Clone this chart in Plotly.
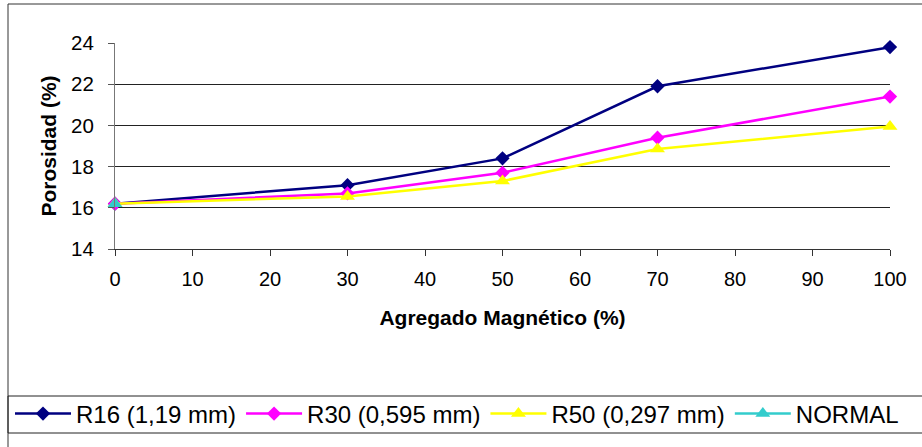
import plotly.graph_objects as go

# Porosity (%) versus percentage of magnetic aggregate, per grading
agregado = [0, 30, 50, 70, 100]
r16 = [16.2, 17.1, 18.4, 21.9, 23.8]
r30 = [16.2, 16.7, 17.7, 19.4, 21.4]
r50 = [16.2, 16.55, 17.3, 18.85, 19.95]
normal_x = [0]
normal_y = [16.2]

series = [
    ("R16 (1,19 mm)", agregado, r16, "#000080", "diamond", 11),
    ("R30 (0,595 mm)", agregado, r30, "#FF00FF", "diamond", 11),
    ("R50 (0,297 mm)", agregado, r50, "#FFFF00", "triangle-up", 13),
    ("NORMAL", normal_x, normal_y, "#33CCCC", "triangle-up", 13),
]

W, H = 922, 447
L, R, T, B = 115, 32, 43, 198
PW, PH = W - L - R, H - T - B

def px(x):
    return (x - L) / PW

def py(y):
    return (H - B - y) / PH

FONT = "Liberation Sans, Arial, sans-serif"

fig = go.Figure()
for name, xs, ys, color, symbol, size in series:
    fig.add_trace(go.Scatter(
        x=xs, y=ys, name=name, mode="lines+markers",
        line=dict(color=color, width=2.5),
        marker=dict(color=color, symbol=symbol, size=size, line=dict(width=0)),
        cliponaxis=False,
    ))

fig.update_layout(
    width=W, height=H,
    margin=dict(l=L, r=R, t=T, b=B, pad=0, autoexpand=False),
    paper_bgcolor="white", plot_bgcolor="white",
    font=dict(family=FONT, color="black", size=20),
    showlegend=True,
    legend=dict(
        orientation="h", x=px(10), y=py(414), xanchor="left", yanchor="middle",
        font=dict(family=FONT, size=24, color="black"),
        bgcolor="rgba(0,0,0,0)", borderwidth=0, itemwidth=56,
        traceorder="normal",
    ),
    xaxis=dict(
        range=[0, 100], dtick=10, tick0=0,
        showgrid=False, zeroline=False,
        showline=True, linecolor="#333333", linewidth=1,
        ticks="outside", ticklen=6, tickcolor="#333333",
        tickfont=dict(size=20), ticklabelstandoff=6,
        title=dict(text="<b>Agregado Magnético (%)</b>", font=dict(size=21), standoff=21),
    ),
    yaxis=dict(
        range=[14, 24], dtick=2, tick0=14,
        showgrid=True, gridcolor="#222222", gridwidth=1,
        zeroline=False,
        showline=True, linecolor="#777777", linewidth=1,
        ticks="outside", ticklen=6, tickcolor="#555555",
        tickfont=dict(size=20.5), ticklabelstandoff=10,
        title=dict(text="<b>Porosidad (%)</b>", font=dict(size=21), standoff=8),
    ),
    shapes=[
        # outer chart frame
        dict(type="rect", xref="paper", yref="paper",
             x0=px(8), x1=px(940), y0=py(4), y1=py(470),
             line=dict(color="#333333", width=1), fillcolor="rgba(0,0,0,0)", layer="below"),
        # legend frame
        dict(type="rect", xref="paper", yref="paper",
             x0=px(8), x1=px(940), y0=py(396), y1=py(433),
             line=dict(color="#222222", width=1), fillcolor="rgba(0,0,0,0)", layer="below"),
    ],
)

fig.write_html("out.html")
